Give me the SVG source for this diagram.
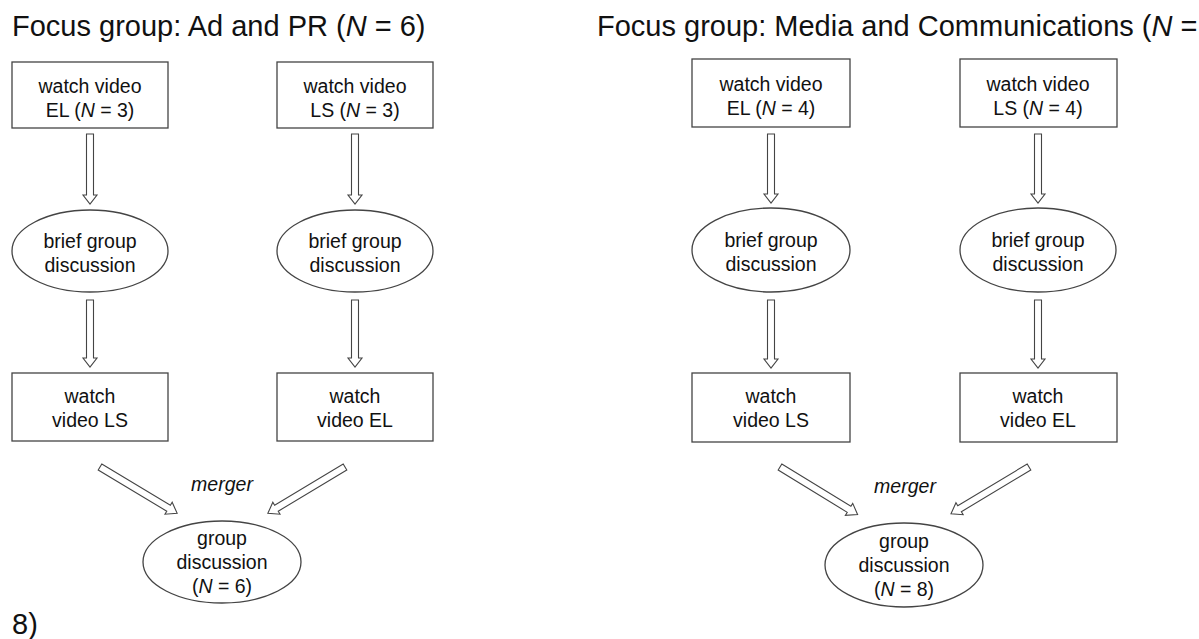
<svg xmlns="http://www.w3.org/2000/svg" width="1199" height="639" viewBox="0 0 1199 639">
<style>
  text { font-family: "Liberation Sans", Arial, sans-serif; fill: #111; }
  .title { font-size: 29px; }
  .lbl { font-size: 19.5px; text-anchor: middle; }
  .it { font-style: italic; }
  .shape { fill: #fff; stroke: #444; stroke-width: 1.3; }
  .arrow { fill: #fff; stroke: #444; stroke-width: 1.1; stroke-linejoin: miter; }
</style>
<rect width="1199" height="639" fill="#fff"/>

<text class="title" x="12" y="36">Focus group: Ad and PR (<tspan class="it">N</tspan> = 6)</text>
<text class="title" x="597" y="36">Focus group: Media and Communications (<tspan class="it">N</tspan> =</text>
<text class="title" x="12" y="634">8)</text>

<g id="connectors">
  <!-- left group vertical -->
  <path class="arrow" transform="translate(90,134) rotate(90)" d="M0,-3.5 H61 V-7 L70,0 L61,7 V3.5 H0 Z"/>
  <path class="arrow" transform="translate(90,300) rotate(90)" d="M0,-3.5 H58 V-7 L67,0 L58,7 V3.5 H0 Z"/>
  <path class="arrow" transform="translate(355,134) rotate(90)" d="M0,-3.5 H61 V-7 L70,0 L61,7 V3.5 H0 Z"/>
  <path class="arrow" transform="translate(355,300) rotate(90)" d="M0,-3.5 H58 V-7 L67,0 L58,7 V3.5 H0 Z"/>
  <!-- left group diagonal -->
  <path class="arrow" transform="translate(100,467) rotate(31)" d="M0,-3.5 H80 V-7 L90,0 L80,7 V3.5 H0 Z"/>
  <path class="arrow" transform="translate(345,467) rotate(149)" d="M0,-3.5 H80 V-7 L90,0 L80,7 V3.5 H0 Z"/>
  <!-- right group vertical -->
  <path class="arrow" transform="translate(771,134) rotate(90)" d="M0,-3.5 H60 V-7 L69,0 L60,7 V3.5 H0 Z"/>
  <path class="arrow" transform="translate(771,300) rotate(90)" d="M0,-3.5 H59 V-7 L68,0 L59,7 V3.5 H0 Z"/>
  <path class="arrow" transform="translate(1038,134) rotate(90)" d="M0,-3.5 H60 V-7 L69,0 L60,7 V3.5 H0 Z"/>
  <path class="arrow" transform="translate(1038,300) rotate(90)" d="M0,-3.5 H59 V-7 L68,0 L59,7 V3.5 H0 Z"/>
  <!-- right group diagonal -->
  <path class="arrow" transform="translate(780,467) rotate(31.5)" d="M0,-3.5 H81 V-7 L91,0 L81,7 V3.5 H0 Z"/>
  <path class="arrow" transform="translate(1029,467) rotate(149)" d="M0,-3.5 H81 V-7 L91,0 L81,7 V3.5 H0 Z"/>
  <text class="lbl it" x="222" y="491">merger</text>
  <text class="lbl it" x="905" y="493">merger</text>
</g>

<!-- Left group -->
<g id="ad-watch-el">
  <rect class="shape" x="12" y="62" width="156" height="66"/>
  <text class="lbl" x="90" y="93">watch video</text>
  <text class="lbl" x="90" y="117">EL (<tspan class="it">N</tspan> = 3)</text>
</g>
<g id="ad-watch-ls">
  <rect class="shape" x="277" y="62" width="156" height="66"/>
  <text class="lbl" x="355" y="93">watch video</text>
  <text class="lbl" x="355" y="117">LS (<tspan class="it">N</tspan> = 3)</text>
</g>
<g id="ad-brief-1">
  <ellipse class="shape" cx="90" cy="251" rx="78" ry="41"/>
  <text class="lbl" x="90" y="248">brief group</text>
  <text class="lbl" x="90" y="272">discussion</text>
</g>
<g id="ad-brief-2">
  <ellipse class="shape" cx="355" cy="251" rx="78" ry="41"/>
  <text class="lbl" x="355" y="248">brief group</text>
  <text class="lbl" x="355" y="272">discussion</text>
</g>
<g id="ad-watch-ls2">
  <rect class="shape" x="12" y="373" width="156" height="68"/>
  <text class="lbl" x="90" y="403">watch</text>
  <text class="lbl" x="90" y="427">video LS</text>
</g>
<g id="ad-watch-el2">
  <rect class="shape" x="277" y="373" width="156" height="68"/>
  <text class="lbl" x="355" y="403">watch</text>
  <text class="lbl" x="355" y="427">video EL</text>
</g>
<g id="ad-group">
  <ellipse class="shape" cx="222" cy="562" rx="79" ry="41"/>
  <text class="lbl" x="222" y="545">group</text>
  <text class="lbl" x="222" y="569">discussion</text>
  <text class="lbl" x="222" y="593">(<tspan class="it">N</tspan> = 6)</text>
</g>

<!-- Right group -->
<g id="mc-watch-el">
  <rect class="shape" x="692" y="59" width="158" height="68"/>
  <text class="lbl" x="771" y="91">watch video</text>
  <text class="lbl" x="771" y="115">EL (<tspan class="it">N</tspan> = 4)</text>
</g>
<g id="mc-watch-ls">
  <rect class="shape" x="960" y="59" width="157" height="68"/>
  <text class="lbl" x="1038" y="91">watch video</text>
  <text class="lbl" x="1038" y="115">LS (<tspan class="it">N</tspan> = 4)</text>
</g>
<g id="mc-brief-1">
  <ellipse class="shape" cx="771" cy="250" rx="79" ry="42"/>
  <text class="lbl" x="771" y="247">brief group</text>
  <text class="lbl" x="771" y="271">discussion</text>
</g>
<g id="mc-brief-2">
  <ellipse class="shape" cx="1038" cy="250" rx="78" ry="42"/>
  <text class="lbl" x="1038" y="247">brief group</text>
  <text class="lbl" x="1038" y="271">discussion</text>
</g>
<g id="mc-watch-ls2">
  <rect class="shape" x="692" y="373" width="158" height="69"/>
  <text class="lbl" x="771" y="403">watch</text>
  <text class="lbl" x="771" y="427">video LS</text>
</g>
<g id="mc-watch-el2">
  <rect class="shape" x="960" y="373" width="157" height="69"/>
  <text class="lbl" x="1038" y="403">watch</text>
  <text class="lbl" x="1038" y="427">video EL</text>
</g>
<g id="mc-group">
  <ellipse class="shape" cx="904" cy="565" rx="79" ry="42"/>
  <text class="lbl" x="904" y="548">group</text>
  <text class="lbl" x="904" y="572">discussion</text>
  <text class="lbl" x="904" y="596">(<tspan class="it">N</tspan> = 8)</text>
</g>
</svg>
